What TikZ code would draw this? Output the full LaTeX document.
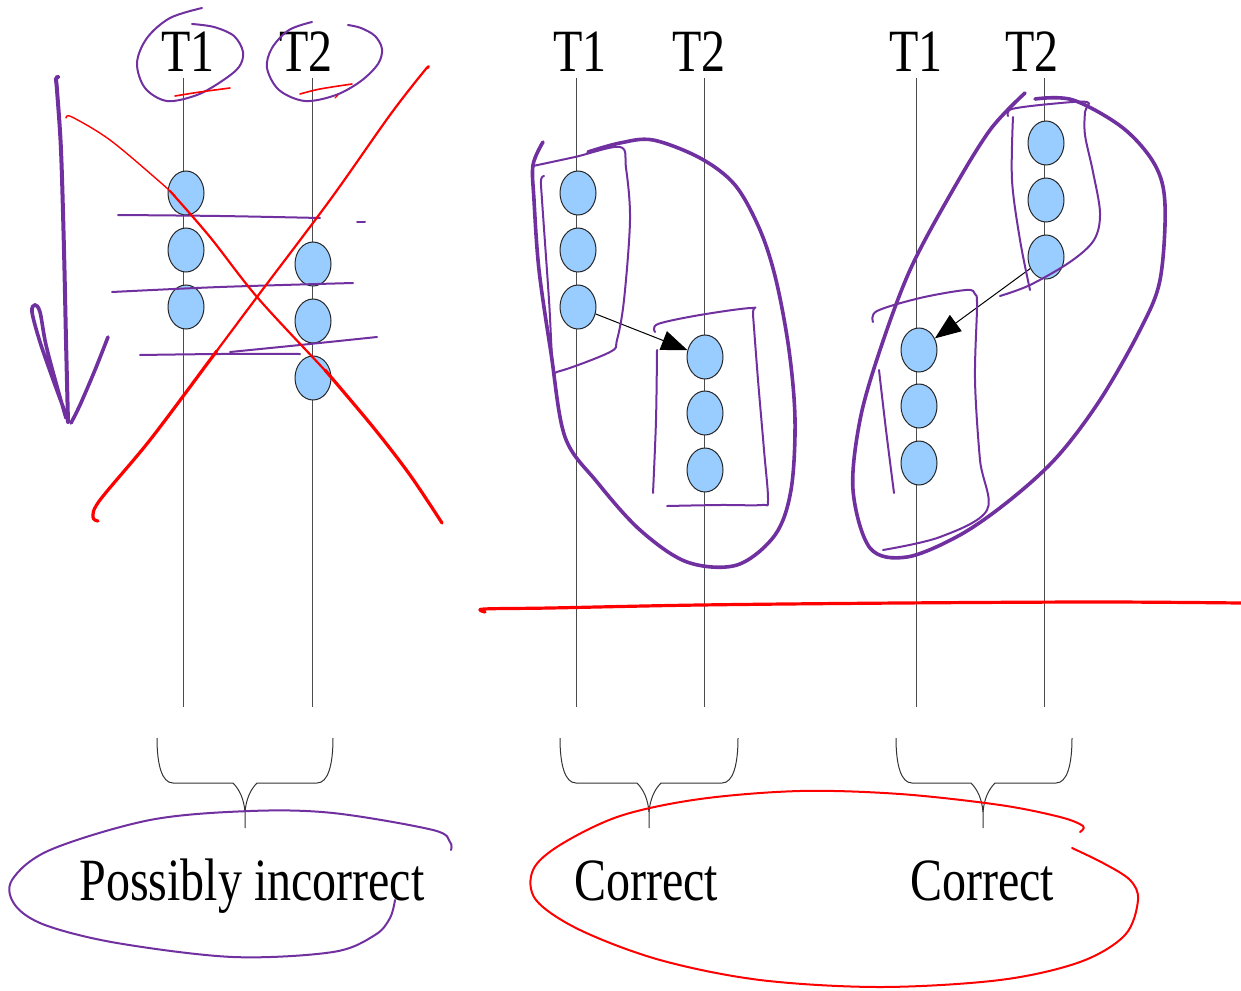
\documentclass[tikz,border=0pt]{standalone}
\usepackage{fontspec}
\newfontfamily\lblfont[FakeStretch=0.8]{Liberation Serif}
\usetikzlibrary{shapes.geometric,arrows.meta}
\definecolor{ink}{HTML}{7030A0}
\definecolor{evfill}{HTML}{99CCFF}
\begin{document}
\begin{tikzpicture}[x=0.5pt,y=-0.5pt,
  event/.style={ellipse, draw=black!85, line width=0.5pt, fill=evfill,
    minimum width=18pt, minimum height=22pt, inner sep=0pt},
  tlabel/.style={anchor=base, inner sep=0pt, font=\lblfont\fontsize{30}{30}\selectfont},
  timeline/.style={draw=black!70, line width=0.5pt},
  msg/.style={draw=black, line width=0.5pt, -{Triangle[length=13pt,width=10pt]}},
  bracestyle/.style={draw=black!80, line width=0.5pt},
  pen/.style={draw=ink, line width=1pt, line cap=round, line join=round},
  penthick/.style={draw=ink, line width=1.8pt, line cap=round, line join=round},
  redpen/.style={draw=red, line width=1.2pt, line cap=round, line join=round},
  freehand/.style={smooth, tension=0.55}
]
\useasboundingbox (0,0) rectangle (1241,990);

% ---------- timeline labels ----------
\node[tlabel] (g1l1) at (188,72) {T1};
\node[tlabel] (g1l2) at (306,72) {T2};
\node[tlabel] (g2l1) at (580,72) {T1};
\node[tlabel] (g2l2) at (699,72) {T2};
\node[tlabel] (g3l1) at (916,72) {T1};
\node[tlabel] (g3l2) at (1032,72) {T2};

% ---------- timelines ----------
\foreach \n/\x in {g1t1/183, g1t2/312, g2t1/576, g2t2/704, g3t1/916, g3t2/1044} {
  \coordinate (\n top) at (\x,78);
  \coordinate (\n bot) at (\x,707);
  \draw[timeline] (\n top) -- (\n bot);
}

% ---------- events ----------
\node[event] (g1a1) at (186,193) {};
\node[event] (g1a2) at (186,250) {};
\node[event] (g1a3) at (186,307) {};
\node[event] (g1b1) at (313,264) {};
\node[event] (g1b2) at (313,321) {};
\node[event] (g1b3) at (313,378) {};

\node[event] (g2a1) at (578,193) {};
\node[event] (g2a2) at (578,250) {};
\node[event] (g2a3) at (578,307) {};
\node[event] (g2b1) at (705,357) {};
\node[event] (g2b2) at (705,413) {};
\node[event] (g2b3) at (705,470) {};

\node[event] (g3b1) at (1046,143) {};
\node[event] (g3b2) at (1046,200) {};
\node[event] (g3b3) at (1046,257) {};
\node[event] (g3a1) at (919,350) {};
\node[event] (g3a2) at (919,406) {};
\node[event] (g3a3) at (919,463) {};

% ---------- messages ----------
\draw[msg] (g2a3) -- (g2b1);
\draw[msg] (g3b3) -- (g3a1);

% ---------- braces ----------
\foreach \L/\M/\R in {157/245/333, 560/649/738, 896/983/1072} {
  \draw[bracestyle] (\L,738) .. controls (\L,765) and ({\L+5},783) .. ({\L+16},783)
    -- ({\M-12},783) .. controls ({\M-5},790) and ({\M-1},800) .. (\M,812) -- (\M,828);
  \draw[bracestyle] (\R,738) .. controls (\R,765) and ({\R-5},783) .. ({\R-16},783)
    -- ({\M+12},783) .. controls ({\M+5},790) and ({\M+1},800) .. (\M,812);
}

% ---------- verdicts ----------
\node[tlabel] (v1) at (252,900) {Possibly incorrect};
\node[tlabel] (v2) at (646,900) {Correct};
\node[tlabel] (v3) at (982,900) {Correct};

% ---------- annotations: first pair ----------
\draw[pen] plot[freehand] coordinates {(202,8) (170,18) (147,38) (137,63) (145,88) (167,101) (197,95) (222,81) (239,67) (243,52) (234,36) (214,27) (192,24)};
\draw[pen] plot[freehand] coordinates {(312,22) (289,30) (272,48) (267,68) (279,90) (305,101) (336,95) (361,81) (378,64) (382,49) (375,36) (361,28) (348,25)};
\draw[redpen, line width=0.8pt] plot[freehand] coordinates {(175,96) (200,92) (230,88)};
\draw[redpen, line width=0.8pt] plot[freehand] coordinates {(300,94) (320,89) (352,84)};
\draw[redpen, line width=0.6pt] (335,98) -- (338,95);

\draw[pen] plot[freehand] coordinates {(118,215) (220,216) (320,218)};
\draw[pen] (357,222) -- (365,222);
\draw[pen] plot[freehand] coordinates {(112,292) (220,287) (353,283)};
\draw[pen] plot[freehand] coordinates {(140,355) (220,354) (300,354)};
\draw[pen] plot[freehand] coordinates {(230,352) (300,345) (377,337)};

% crossing-out
\draw[redpen, line width=0.7pt] plot[freehand] coordinates {(66,118) (72,117) (110,140) (160,182) (175,196)};
\draw[redpen, line width=1.1pt] plot[freehand] coordinates {(170,191) (210,237) (257,297) (320,365) (330,376)};
\draw[redpen, line width=1.6pt] plot[freehand] coordinates {(325,370) (373,427) (410,475) (442,523)};
\draw[redpen, line width=1.6pt] plot[freehand] coordinates {(98,521) (93,517) (100,500) (150,440) (210,360) (216,352)};
\draw[redpen, line width=1.1pt] plot[freehand] coordinates {(210,360) (257,297) (330,200) (390,115) (425,70) (428,68)};

% time arrow
\draw[draw=ink, line width=2pt, line cap=round] plot[freehand] coordinates {(58,77) (56,79) (57,90) (61,150) (64,250) (66,340) (68,422)};
\draw[draw=ink, line width=1.8pt, line cap=round] plot[freehand] coordinates {(68,420) (55,385) (40,342) (32,312) (35,305) (40,312) (46,345) (58,390) (66,418)};
\draw[draw=ink, line width=1.8pt, line cap=round] plot[freehand] coordinates {(108,337) (95,370) (80,405) (71,423)};

% ---------- annotations: second pair ----------
\draw[penthick] plot[freehand] coordinates {(588,152) (620,143) (653,140) (700,158) (735,185) (760,230) (776,280) (789,350) (795,420) (791,490) (775,535) (737,565) (687,562) (640,530) (597,482) (565,437) (551,353) (539,270) (534,200) (533,165) (543,142)};
\draw[pen] plot[freehand] coordinates {(533,166) (575,157) (620,147) (626,168) (630,220) (624,300) (617,340) (610,352) (560,371) (553,366) (549,300) (542,200) (541,180) (544,176)};
\draw[pen] plot[freehand] coordinates {(655,332) (658,324) (700,315) (752,308) (753,315) (758,380) (764,450) (768,500) (762,505) (720,505) (667,506)};
\draw[pen] plot[freehand] coordinates {(657,350) (656,420) (653,493)};

% ---------- annotations: third pair ----------
\draw[penthick] plot[freehand] coordinates {(1035,99) (1073,100) (1123,128) (1155,165) (1165,205) (1160,280) (1140,330) (1100,400) (1057,457) (1010,500) (960,535) (907,557) (870,548) (853,490) (860,420) (880,350) (910,270) (950,195) (990,130) (1025,93)};
\draw[pen] plot[freehand] coordinates {(1008,116) (1012,109) (1050,104) (1087,102) (1085,112) (1085,135) (1093,172) (1100,213) (1094,240) (1070,262) (1030,285) (1000,296)};
\draw[pen] plot[freehand] coordinates {(1013,117) (1012,180) (1020,240) (1030,290)};
\draw[pen] plot[freehand] coordinates {(873,322) (877,311) (920,298) (966,290) (975,294) (977,306) (975,380) (980,460) (987,510) (940,537) (883,550)};
\draw[pen] plot[freehand] coordinates {(879,370) (886,430) (894,493)};

% ---------- divider and rings ----------
\draw[redpen, line width=1.6pt] plot[freehand] coordinates {(485,612) (484,609) (550,608) (700,605) (900,603) (1100,602) (1241,603)};
\draw[pen] plot[freehand] coordinates {(451,850) (450,842) (433,830) (333,813) (250,811) (150,820) (50,850) (12,880) (15,905) (45,925) (117,943) (233,957) (333,952) (375,935) (390,918) (395,900)};
\draw[redpen, line width=1pt] plot[freehand] coordinates {(1072,848) (1103,863) (1130,880) (1138,900) (1125,935) (1080,962) (1000,980) (880,987) (760,980) (660,960) (580,930) (536,900) (533,870) (560,845) (620,816) (700,799) (800,791) (900,794) (1000,805) (1060,817) (1083,826) (1080,832)};

\end{tikzpicture}
\end{document}
